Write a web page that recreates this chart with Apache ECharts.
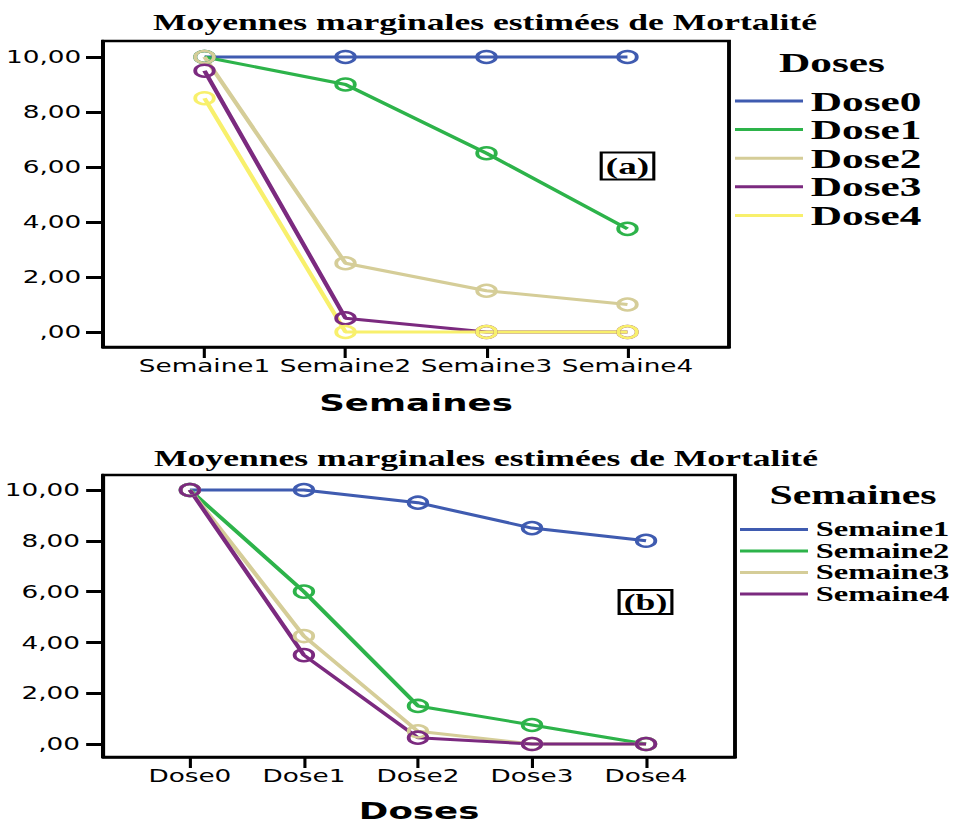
<!DOCTYPE html>
<html>
<head>
<meta charset="utf-8">
<script src="https://cdn.jsdelivr.net/npm/echarts@6/dist/echarts.min.js"></script>
<style>
html,body{margin:0;padding:0;background:#fff;overflow:hidden;width:972px;height:823px;}
#main{width:628px;height:823px;transform:scaleX(1.5478);transform-origin:0 0;}
</style>
</head>
<body>
<div id="main"></div>
<script>
// ---- data ----
const weeks = ['Semaine1', 'Semaine2', 'Semaine3', 'Semaine4'];
const doses = ['Dose0', 'Dose1', 'Dose2', 'Dose3', 'Dose4'];

// chart (a): mortality by week, one series per dose
const dose0 = [10, 10, 10, 10];
const dose1 = [10, 9, 6.5, 3.75];
const dose2 = [10, 2.5, 1.5, 1.0];
const dose3 = [9.5, 0.5, 0, 0];
const dose4 = [8.5, 0, 0, 0];

// chart (b): mortality by dose, one series per week
const semaine1 = [10, 10, 9.5, 8.5, 8.0];
const semaine2 = [10, 6.0, 1.5, 0.75, 0];
const semaine3 = [10, 4.25, 0.5, 0, 0];
const semaine4 = [10, 3.5, 0.25, 0, 0];

const yTicks = [0, 2, 4, 6, 8, 10];
const titleText = 'Moyennes marginales estimées de Mortalité';

// ---- styles ----
const colors = ['#3f5bb0', '#2db34a', '#d5cd98', '#7b2a7f', '#f8f06c'];
const S = 1.5478;
const px = v => v / S;

const chart = echarts.init(document.getElementById('main'), null, {renderer: 'svg'});

const yFmt = v => v === 0 ? ',00' : v.toFixed(2).replace('.', ',');
const tickFont = {fontFamily: 'DejaVu Sans', fontSize: 17, color: '#000'};

function makeY(gridIndex, min, max, margin) {
  return {
    type: 'value', gridIndex, min, max,
    axisLine: {show: true, onZero: false, lineStyle: {color: '#000', width: 2.5}},
    axisTick: {show: true, length: 11, customValues: yTicks, lineStyle: {color: '#000', width: 3}},
    axisLabel: Object.assign({customValues: yTicks, formatter: yFmt, margin}, tickFont),
    splitLine: {show: false}
  };
}
function makeX(gridIndex, cats, min, max, name, nameGap) {
  const idx = cats.map((c, i) => i);
  return {
    type: 'value', gridIndex, min, max,
    name, nameLocation: 'middle', nameGap,
    nameTextStyle: {fontFamily: 'DejaVu Sans', fontWeight: 'bold', fontSize: 23, color: '#000'},
    axisLine: {show: true, onZero: false, lineStyle: {color: '#000', width: 2.5}},
    axisTick: {show: true, length: 11, customValues: idx, lineStyle: {color: '#000', width: 2}},
    axisLabel: Object.assign({customValues: idx, margin: 10, formatter: v => cats[Math.round(v)]}, tickFont),
    splitLine: {show: false}
  };
}
function makeSeries(name, values, color, axisIndex) {
  return {
    type: 'line', name,
    xAxisIndex: axisIndex, yAxisIndex: axisIndex,
    data: values.map((v, i) => [i, v]),
    symbol: 'circle', symbolSize: 12,
    lineStyle: {color, width: 3},
    itemStyle: {color: 'transparent', borderColor: color, borderWidth: 2.5},
    emphasis: {disabled: true},
    z: 3
  };
}

const topSeries = [dose0, dose1, dose2, dose3, dose4].map((d, i) => makeSeries(doses[i], d, colors[i], 0));
const botSeries = [semaine1, semaine2, semaine3, semaine4].map((d, i) => makeSeries(weeks[i], d, colors[i], 1));

function boxText(text, x, y, size, opts) {
  return {
    type: 'text', x, y, silent: true,
    style: Object.assign({
      text, fill: '#000', align: 'center', verticalAlign: 'middle',
      font: 'bold ' + size + 'px "Liberation Serif", "Times New Roman", serif'
    }, opts || {})
  };
}

const option = {
  animation: false,
  backgroundColor: '#fff',
  grid: [
    {left: px(103), top: 41, width: px(626), height: 306, show: true, borderColor: '#000', borderWidth: 2.5, backgroundColor: 'transparent', containLabel: false},
    {left: px(96), top: 475, width: px(639), height: 284, show: true, borderColor: '#000', borderWidth: 2.5, backgroundColor: 'transparent', containLabel: false}
  ],
  xAxis: [
    makeX(0, weeks, -0.72, 3.72, 'Semaines', 44),
    makeX(1, doses, -0.76, 4.78, 'Doses', 42)
  ],
  yAxis: [
    makeY(0, -0.545, 10.58, 14),
    makeY(1, -0.51, 10.59, 15)
  ],
  legend: [
    {
      data: doses.map((n, i) => ({name: n, itemStyle: {color: colors[i], borderWidth: 0}})),
      orient: 'vertical', left: px(735), top: 87, padding: 0,
      icon: 'rect', itemWidth: px(68), itemHeight: 3, itemGap: 0.6,
      selectedMode: false,
      textStyle: {fontFamily: 'Liberation Serif', fontWeight: 'bold', fontSize: 28, lineHeight: 26, color: '#000'}
    },
    {
      data: weeks.map((n, i) => ({name: n, itemStyle: {color: colors[i], borderWidth: 0}})),
      orient: 'vertical', left: px(740), top: 519, padding: 0,
      icon: 'rect', itemWidth: px(68), itemHeight: 3, itemGap: 0.5,
      selectedMode: false,
      textStyle: {fontFamily: 'Liberation Serif', fontWeight: 'bold', fontSize: 21, lineHeight: 20, color: '#000'}
    }
  ],
  graphic: [
    boxText(titleText, px(485), 22, 23),
    boxText(titleText, px(486), 458, 23),
    boxText('Doses', px(832), 62, 28),
    boxText('Semaines', px(853), 495, 27),
    boxText('(a)', px(627.5), 166, 24, {borderColor: '#000', borderWidth: 2, padding: [2, 3, 1, 3]}),
    boxText('(b)', px(645.5), 602, 23, {borderColor: '#000', borderWidth: 2, padding: [1, 3, 0, 3]})
  ],
  series: topSeries.concat(botSeries)
};
chart.setOption(option);
</script>
</body>
</html>
